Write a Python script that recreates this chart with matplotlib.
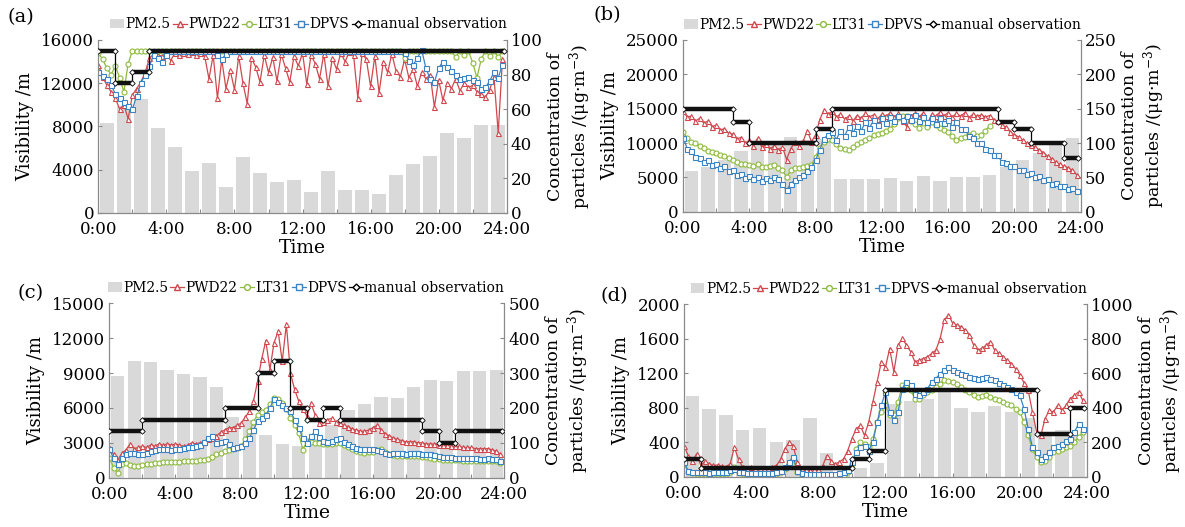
import numpy as np
import matplotlib
matplotlib.use('Agg')
import matplotlib.pyplot as plt
from matplotlib.patches import Patch
from matplotlib.lines import Line2D

plt.rcParams['font.family'] = ['DejaVu Serif']
plt.rcParams['mathtext.fontset'] = 'dejavuserif'

# ---------------- data ----------------
time_h = np.arange(96) * 0.25          # 15-min samples, hours
hours = np.arange(24)                  # hourly PM2.5 / manual observation
manual_end = 23.85
nan = np.nan

# panel (a)
pm_a = [52, 62, 66, 49, 38, 24, 29, 15, 32, 23, 18, 19, 12, 24, 13, 13, 11, 22, 28, 33, 46, 43, 51, 51]
manual_a = [15000, 12000, 13000, 15000, 15000, 15000, 15000, 15000, 15000, 15000, 15000, 15000,
            15000, 15000, 15000, 15000, 15000, 15000, 15000, 15000, 15000, 15000, 15000, 15000]
pwd_a = [13700, 12600, 11800, 11200, 10600, 9600, 10000, 8700,
         10900, 11500, 12100, 13000, 14300, 14700, 14600, 14500,
         14800, 14100, 14800, 14600, 14800, 14700, 14900, 14600,
         14800, 14500, 12400, 14600, 10600, 14200, 11500, 13200,
         11400, 14500, 12000, 10100, 14300, 13500, 12100, 14600,
         13000, 14400, 12200, 14700, 13400, 12100, 14500, 13600,
         14800, 11900, 14600, 13800, 12400, 14700, 11700, 14300,
         13300, 14800, 14000, 14900, 14600, 10600, 14800, 14200,
         11700, 14500, 11100, 14000, 13000, 14700, 13100, 12600,
         14200, 12500, 13300, 11700, 13000, 12400, 12800, 9800,
         12300, 10400, 12000, 11500, 12400, 11300, 12000, 11600,
         11800, 11200, 11000, 10700, 11400, 12600, 7400, 14200]
lt_a = [14800, 14200, 13400, 12800, 13600, 12500, 11200, 13800,
        15000, 15000, 15000, 15000, 15000, 15000, 15000, 15000,
        15000, 15000, 15000, 15000, 15000, 15000, 15000, 15000,
        15000, 15000, 15000, 15000, 15000, 15000, 15000, 15000,
        15000, 15000, 15000, 15000, 15000, 15000, 15000, 15000,
        15000, 15000, 15000, 15000, 15000, 15000, 15000, 15000,
        15000, 15000, 15000, 15000, 15000, 15000, 15000, 15000,
        15000, 15000, 15000, 15000, 15000, 15000, 15000, 15000,
        15000, 15000, 15000, 15000, 15000, 15000, 15000, 15000,
        14300, 15000, 15000, 15000, 15000, 15000, 15000, 15000,
        15000, 15000, 15000, 15000, 14400, 15000, 14600, 15000,
        13900, 12500, 14200, 15000, 14500, 15000, 14400, 15000]
dpvs_a = [13000, 12700, 12400, 11800, 11000, 10600, 10300, 9900,
          9600, 10800, 12000, 12800, 13600, 14600, 14300, 14000,
          14600, 15000, 15000, 15000, 15000, 15000, 15000, 15000,
          15000, 15000, 15000, 15000, 14600, 14200, 14700, 15000,
          15000, 15000, 15000, 15000, 15000, 15000, 15000, 15000,
          15000, 15000, 15000, 15000, 15000, 15000, 15000, 15000,
          15000, 15000, 15000, 15000, 15000, 15000, 15000, 15000,
          15000, 15000, 15000, 15000, 15000, 15000, 15000, 15000,
          15000, 15000, 15000, 15000, 15000, 15000, 15000, 15000,
          14800, 14100, 13700, 14300, 15100, 13400, 12400, 12100,
          13400, 14000, 13500, 13100, 12800, 12400, 12500, 12600,
          12300, 12100, 11500, 11600, 12200, 13000, 12500, 13700]

# panel (b)
pm_b = [59, 65, 75, 89, 95, 100, 109, 104, 106, 48, 47, 48, 49, 45, 52, 45, 50, 51, 53, 65, 75, 85, 97, 107]
manual_b = [15000, 15000, 15000, 13000, 10000, 10000, 10000, 10000, 12000, 15000, 15000, 15000,
            15000, 15000, 15000, 15000, 15000, 15000, 15000, 13000, 12000, 10000, 10000, 7800]
pwd_b = [14600, 13800, 13900, 13200, 13600, 12900, 13200, 12400,
         12600, 11900, 12100, 11400, 11300, 10600, 10800, 10000,
         10400, 9600, 10700, 9400, 9800, 9100, 9600, 9000,
         9400, 7600, 9200, 10100, 9500, 10300, 11800, 10200,
         11200, 13400, 14800, 14200, 14600, 13800, 14200, 13500,
         13900, 13200, 14000, 13600, 14300, 13800, 14100, 13500,
         14200, 13900, 14400, 13800, 14300, 13200, 12400, 14000,
         14300, 13800, 14400, 12800, 14200, 13900, 14500, 14000,
         14400, 13800, 14300, 13900, 14400, 13700, 14200, 13900,
         14100, 13800, 14000, 13400, 13200, 12600, 12300, 11600,
         11200, 10900, 10400, 10000, 9700, 9400, 9000, 8600,
         8100, 7700, 7200, 6900, 6600, 6400, 6000, 5400]
lt_b = [11600, 10700, 10200, 10000, 9500, 9300, 8900, 8700,
        8500, 8200, 8100, 7800, 7500, 7300, 7000, 6900,
        6800, 6600, 6900, 6500, 6500, 6700, 6800, 6400,
        6000, 5100, 6000, 6300, 6400, 6500, 6600, 6800,
        8000, 9300, 10200, 10600, 10400, 9800, 9300, 9200,
        9000, 9400, 9800, 10100, 10400, 10800, 11100, 11300,
        11400, 11800, 12100, 12800, 13600, 13900, 14000, 13200,
        12800, 12200, 12900, 12400, 13000, 12600, 12200, 11900,
        11600, 11000, 10400, 10700, 10900, 11200, 11500, 11000,
        11100, 11800, 12500, nan, nan, nan, nan, nan,
        nan, nan, nan, nan, nan, nan, nan, nan,
        nan, nan, nan, nan, nan, nan, nan, nan]
dpvs_b = [10800, 9200, 8800, 8000, 7800, 7200, 7500, 6800,
          7000, 6300, 6600, 5900, 6000, 5400, 5500, 4900,
          5200, 4700, 5000, 4500, 4900, 4600, 5100, 4700,
          4000, 3100, 4100, 4600, 5000, 5400, 5900, 6500,
          7500, 9000, 10600, 11200, 11600, 10500, 11800, 11000,
          12300, 11500, 12500, 11800, 13000, 12200, 13300, 12600,
          13600, 12900, 13800, 13200, 14000, 13400, 13900, 13300,
          14100, 13200, 13800, 13000, 13600, 12800, 13700, 12900,
          13300, 12400, 13000, 12100, 12000, 11000, 10800, 10000,
          10000, 9100, 9000, 8300, 8200, 7200, 7100, 6600,
          6600, 6000, 6100, 5500, 5600, 5000, 5200, 4600,
          4700, 4100, 4200, 3700, 3700, 3300, 3400, 3000]

# panel (c)
pm_c = [292, 335, 332, 310, 298, 290, 260, 175, 165, 123, 98, 90, 110, 150, 193, 210, 231, 228, 261, 281, 278, 307, 307, 310]
manual_c = [4000, 4000, 5000, 5000, 5000, 5000, 5000, 6000, 6000, 9000, 10000, 6000,
            5000, 6000, 5000, 5000, 5000, 5000, 5000, 4000, 3000, 4000, 4000, 4000]
pwd_c = [2600, 2000, 1500, 2100, 2400, 2900, 2500, 2600,
         2700, 2600, 2800, 2700, 2900, 2800, 2900, 2800,
         2900, 2800, 2700, 2800, 3000, 2900, 3000, 3100,
         3300, 3400, 3600, 3900, 4100, 4300, 4300, 4500,
         4700, 5200, 5700, 6600, 8300, 10200, 11800, 9300,
         11600, 12600, 10000, 13200, 9000, 7600, 6600, 5900,
         5300, 6400, 5400, 4700, 4800, 5000, 5100, 4800,
         4700, 4500, 4400, 4200, 4100, 4000, 4000, 4100,
         4300, 4500, 4100, 3800, 3600, 3400, 3300, 3200,
         3100, 3100, 3100, 3000, 3000, 2900, 2900, 2900,
         2800, 2800, 2800, 2700, 2700, 2700, 2600, 2600,
         2600, 2500, 2500, 2500, 2500, 2400, 2300, 2000]
lt_c = [1700, 860, 430, 1140, 1290, 1100, 1000, 1050,
        1090, 1150, 1200, 1250, 1290, 1320, 1340, 1360,
        1370, 1390, 1400, 1420, 1430, 1460, 1500, 1530,
        1570, 1800, 2000, 2150, 2290, 2350, 2430, 2550,
        2700, 3300, 4000, 4800, 5430, 5650, 5860, 6300,
        6900, 6800, 6430, 5900, 5140, 4500, 3860, 2400,
        3140, 3050, 3000, 2950, 2900, 2880, 2860, 2950,
        3000, 2800, 2630, 2450, 2290, 2200, 2140, 2170,
        2200, 2350, 2430, 2200, 2000, 1930, 1860, 1880,
        1900, 1880, 1860, 1830, 1800, 1780, 1700, 1640,
        1570, 1550, 1530, 1510, 1500, 1490, 1480, 1470,
        1460, 1450, 1440, 1430, 1430, 1420, 1400, 1290]
dpvs_c = [2430, 1700, 1140, 1700, 2000, 2100, 2140, 2050,
          2000, 2150, 2290, 2400, 2510, 2450, 2430, 2400,
          2430, 2500, 2550, 2600, 2630, 2700, 2800, 3100,
          3430, 3570, 3000, 3100, 3140, 2900, 2570, 2650,
          2700, 3000, 3430, 4100, 4860, 5100, 5430, 6000,
          6800, 6500, 6290, 6000, 5710, 5000, 4290, 3430,
          3000, 3570, 4000, 3500, 3140, 3100, 3140, 3300,
          3430, 3100, 2860, 2700, 2570, 2500, 2430, 2430,
          2430, 2350, 2290, 2150, 2060, 2100, 2140, 2100,
          2080, 2100, 2140, 2100, 2060, 2030, 2000, 1930,
          1860, 1820, 1780, 1740, 1700, 1690, 1680, 1670,
          1660, 1660, 1650, 1650, 1660, 1640, 1630, 1430]

# panel (d)
pm_d = [468, 390, 355, 268, 282, 200, 214, 342, 136, 40, 49, 80, 420, 440, 450, 505, 400, 375, 410, 375, 340, 262, 268, 239]
manual_d = [200, 100, 100, 100, 100, 100, 100, 100, 100, 100, 200, 300,
            1000, 1000, 1000, 1000, 1000, 1000, 1000, 1000, 1000, 500, 500, 800]
pwd_d = [360, 245, 186, 264, 128, 180, 148, 130,
         136, 120, 115, 150, 340, 200, 109, 105,
         110, 100, 97, 100, 105, 110, 128, 200,
         322, 400, 361, 167, 89, 85, 80, 85,
         90, 120, 245, 180, 148, 170, 206, 303,
         439, 555, 594, 478, 633, 866, 1099, 1332,
         1274, 1487, 1215, 1526, 1604, 1526, 1449, 1332,
         1351, 1370, 1390, 1430, 1468, 1600, 1817, 1880,
         1779, 1760, 1740, 1700, 1643, 1526, 1468, 1490,
         1526, 1565, 1468, 1430, 1390, 1350, 1313, 1250,
         1177, 1090, 1000, 750, 516, 478, 672, 769,
         750, 827, 769, 827, 905, 944, 983, 885]
lt_d = [148, 50, 40, 35, 31, 30, 30, 30,
        31, 30, 35, 60, 109, 50, 30, 30,
        31, 30, 30, 30, 31, 30, 35, 50,
        89, 150, 206, 50, 20, 19, 19, 19,
        19, 19, 20, 19, 19, 20, 25, 60,
        148, 322, 400, 380, 342, 440, 633, 750,
        827, 711, 711, 870, 1060, 1060, 1002, 905,
        905, 950, 983, 1010, 1041, 1080, 1118, 1110,
        1099, 1070, 1041, 1010, 983, 950, 924, 935,
        944, 925, 905, 885, 866, 845, 827, 790,
        750, 630, 478, 320, 225, 167, 185, 225,
        283, 300, 322, 340, 361, 400, 458, 517]
dpvs_d = [167, 70, 58, 55, 50, 50, 48, 50,
          50, 52, 60, 75, 89, 60, 50, 45,
          43, 43, 45, 43, 43, 45, 50, 70,
          109, 167, 225, 70, 43, 35, 33, 31,
          31, 32, 35, 33, 35, 40, 50, 80,
          167, 283, 342, 361, 303, 400, 633, 827,
          983, 750, 652, 750, 1021, 1099, 1060, 963,
          944, 980, 1021, 1099, 1138, 1196, 1235, 1274,
          1235, 1215, 1196, 1175, 1157, 1145, 1138, 1150,
          1157, 1135, 1118, 1090, 1060, 1040, 1021, 985,
          944, 788, 555, 342, 283, 206, 245, 283,
          342, 360, 381, 410, 439, 517, 614, 555]

panel_labels = ['(a)', '(b)', '(c)', '(d)']
x_ticks = [0, 4, 8, 12, 16, 20, 24]
x_ticklabels = ['0:00', '4:00', '8:00', '12:00', '16:00', '20:00', '24:00']
legend_labels = ['PM2.5', 'PWD22', 'LT31', 'DPVS', 'manual observation']

# ---------------- styles ----------------
C_RED = '#d0474d'
C_GREEN = '#8dbb3e'
C_BLUE = '#3c83c4'
C_BAR = '#d9d9d9'
C_SPINE = '#8a8a8a'

fig = plt.figure(figsize=(11.85, 5.27), dpi=100)

panels = [
    dict(rect=[0.0830, 0.5964, 0.3446, 0.3277], lab_xy=(0.0065, 0.968), pm=pm_a, man=manual_a,
         pwd=pwd_a, lt=lt_a, dp=dpvs_a, yl=(0, 16000), yt=np.arange(0, 16001, 4000),
         yr=(0, 100), ytr=np.arange(0, 101, 20)),
    dict(rect=[0.5764, 0.5983, 0.3356, 0.3258], lab_xy=(0.501, 0.971), pm=pm_b, man=manual_b,
         pwd=pwd_b, lt=lt_b, dp=dpvs_b, yl=(0, 25000), yt=np.arange(0, 25001, 5000),
         yr=(0, 250), ytr=np.arange(0, 251, 50)),
    dict(rect=[0.0924, 0.0935, 0.3332, 0.3309], lab_xy=(0.0145, 0.443), pm=pm_c, man=manual_c,
         pwd=pwd_c, lt=lt_c, dp=dpvs_c, yl=(0, 15000), yt=np.arange(0, 15001, 3000),
         yr=(0, 500), ytr=np.arange(0, 501, 100)),
    dict(rect=[0.5772, 0.0955, 0.3401, 0.3271], lab_xy=(0.507, 0.438), pm=pm_d, man=manual_d,
         pwd=pwd_d, lt=lt_d, dp=dpvs_d, yl=(0, 2000), yt=np.arange(0, 2001, 400),
         yr=(0, 1000), ytr=np.arange(0, 1001, 200)),
]

for p, plab in zip(panels, panel_labels):
    ax = fig.add_axes(p['rect'])
    ax2 = ax.twinx()
    ax.set_zorder(ax2.get_zorder() + 1)
    ax.patch.set_visible(False)

    ax2.bar(hours + 0.5, p['pm'], width=0.8, color=C_BAR, edgecolor='none')
    ax2.set_ylim(*p['yr'])
    ax2.set_yticks(p['ytr'])

    mk = dict(markersize=3.6, markeredgewidth=0.8, markerfacecolor='white', linewidth=0.9)
    ax.plot(time_h, p['pwd'], color=C_RED, marker='^', markeredgecolor=C_RED, **mk)
    ax.plot(time_h, p['lt'], color=C_GREEN, marker='o', markeredgecolor=C_GREEN, **mk)
    ax.plot(time_h, p['dp'], color=C_BLUE, marker='s', markeredgecolor=C_BLUE, **mk)

    man = np.array(p['man'], dtype=float)
    seg_end = np.append(hours[1:], manual_end)
    xs = np.append(hours, manual_end)
    ys = np.append(man, man[-1])
    ax.step(xs, ys, where='post', color='black', linewidth=0.9, zorder=5)
    ax.hlines(man, hours, seg_end, colors='#111111', linewidth=3.2, zorder=5)
    # white markers only at the ends of each constant run of the observation
    change = np.append(man[1:] != man[:-1], True)
    start = np.insert(change[:-1], 0, True)
    ax.plot(hours[start], man[start], linestyle='none', marker='D', markersize=2.8,
            markerfacecolor='white', markeredgecolor='black', markeredgewidth=0.6, zorder=6)
    ax.plot(seg_end[change], man[change], linestyle='none', marker='D', markersize=2.8,
            markerfacecolor='white', markeredgecolor='black', markeredgewidth=0.6, zorder=6)

    ax.set_xlim(0, 24)
    ax.set_ylim(*p['yl'])
    ax.set_yticks(p['yt'])
    ax.set_xticks(x_ticks)
    ax.set_xticklabels(x_ticklabels)
    ax.set_xticks([2, 6, 10, 14, 18, 22], minor=True)

    for a in (ax, ax2):
        a.tick_params(which='both', direction='in', length=3, width=0.8, color=C_SPINE,
                      labelsize=12, pad=3)
        for s in a.spines.values():
            s.set_color(C_SPINE)
            s.set_linewidth(0.9)
        a.spines['top'].set_visible(False)
    ax.tick_params(axis='x', which='both', pad=6)
    ax.spines['right'].set_visible(False)
    ax2.spines['left'].set_visible(False)
    ax2.spines['bottom'].set_visible(False)

    ax.set_xlabel('Time', fontsize=13.5, labelpad=1)
    ax.set_ylabel('Visibility /m', fontsize=13, labelpad=5)
    ax2.set_ylabel('Concentration of\nparticles /(μg·m$^{-3}$)', fontsize=12.5, linespacing=1.2,
                   labelpad=3)

    handles = [
        Patch(facecolor=C_BAR, edgecolor='none'),
        Line2D([], [], color=C_RED, marker='^', markerfacecolor='white', markersize=4.2, linewidth=0.9),
        Line2D([], [], color=C_GREEN, marker='o', markerfacecolor='white', markersize=4.2, linewidth=0.9),
        Line2D([], [], color=C_BLUE, marker='s', markerfacecolor='white', markersize=4.2, linewidth=0.9),
        Line2D([], [], color='black', marker='D', markerfacecolor='white', markersize=3.5, linewidth=0.9),
    ]
    ax.legend(handles, legend_labels, loc='center right', bbox_to_anchor=(1.0, 1.09), ncol=5,
              frameon=False, fontsize=10, handlelength=1.0, handletextpad=0.1,
              columnspacing=0.15, borderpad=0, borderaxespad=0)

    fig.text(p['lab_xy'][0], p['lab_xy'][1], plab, fontsize=14, va='center', ha='left')

fig.savefig('out.png', dpi=100)
